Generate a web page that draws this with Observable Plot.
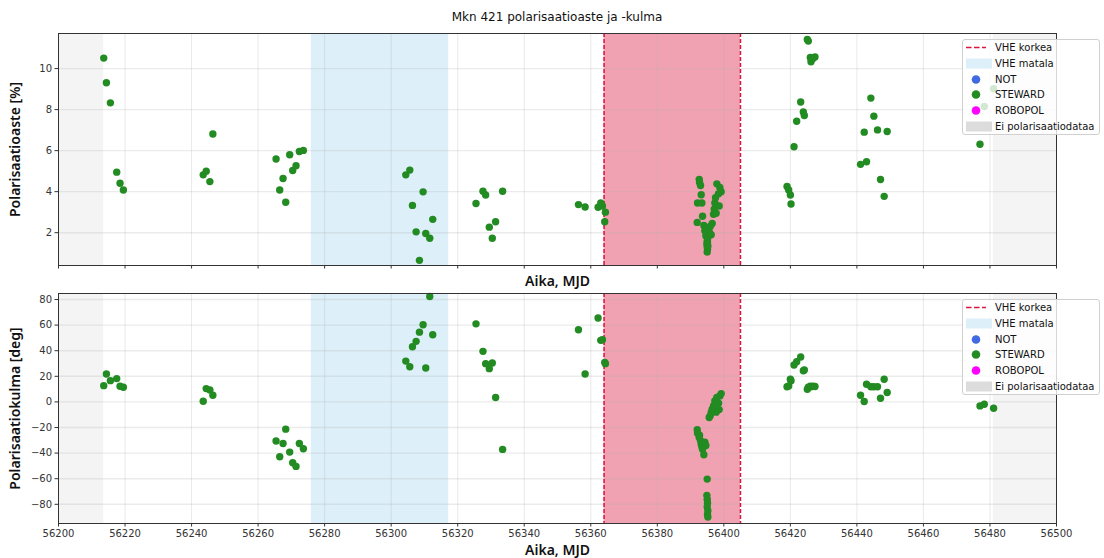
<!DOCTYPE html>
<html>
<head>
<meta charset="utf-8">
<script src="https://cdn.jsdelivr.net/npm/d3@7"></script>
<script src="https://cdn.jsdelivr.net/npm/@observablehq/plot@0.6"></script>
<style>
  html, body { margin: 0; padding: 0; background: #fff; }
  #wrap { position: relative; width: 1104px; height: 558px; overflow: hidden; font-family: "DejaVu Sans", sans-serif; }
  #title { position: absolute; left: 0; width: 1114px; top: 10px; text-align: center; font-size: 12px; color: #111; }
  .panel { position: absolute; left: 0; }
  .legend { position: absolute; width: 138px; height: 96px; background: rgba(255,255,255,0.8); border: 1px solid #d0d0d0; border-radius: 3px; box-sizing: border-box; font-size: 10px; color: #111; z-index: 5; }
  .legend .row { position: absolute; left: 0; height: 16px; width: 100%; }
  .legend .txt { position: absolute; left: 32px; top: 1px; line-height: 14px; white-space: nowrap; }
  .legend svg { position: absolute; left: 0; top: 0; }
  g[aria-label$="axis label"] text { font-family: "Noto Sans", sans-serif; font-weight: 600; font-size: 14px; fill: #111; }
</style>
</head>
<body>
<div id="wrap">
  <div id="title">Mkn 421 polarisaatioaste ja -kulma</div>
</div>
<script>
// ---- data ----
const mjd = [
  56213.6, 56214.4, 56215.6, 56217.5, 56218.5, 56219.5,
  56243.5, 56244.4, 56245.5, 56246.4,
  56265.4, 56266.5, 56267.5, 56268.3, 56269.5, 56270.4, 56271.4, 56272.4, 56273.6,
  56304.4, 56305.6, 56306.4, 56307.5, 56308.5, 56309.6, 56310.4, 56311.6, 56312.5,
  56325.5, 56327.6, 56328.4, 56329.5, 56330.4, 56331.4, 56333.5,
  56356.3, 56358.3, 56362.2, 56363.0, 56363.5, 56364.2, 56364.4,
  56392.0, 56392.1, 56392.6, 56392.7, 56393.0, 56393.2, 56393.4, 56393.6, 56394.0, 56394.3, 56394.6,
  56395.0, 56394.9, 56395.0, 56395.1, 56395.0, 56395.2, 56395.1, 56395.2,
  56395.6, 56395.9, 56396.2, 56396.5, 56396.9, 56397.1, 56397.3, 56397.5, 56397.9, 56398.4, 56398.8, 56399.2, 56398.6, 56397.7,
  56419.0, 56419.5, 56420.0, 56420.2, 56421.1, 56421.9, 56423.1, 56423.9, 56424.2, 56425.1, 56425.4, 56426.0, 56426.2, 56426.8, 56427.4,
  56441.1, 56442.2, 56442.9, 56444.2, 56445.1, 56446.2, 56447.1, 56448.2, 56449.1,
  56477.0, 56478.3, 56481.1
];
const polDegree = [
  10.51, 9.31, 8.33, 4.95, 4.41, 4.08,
  4.82, 5.00, 4.49, 6.81,
  5.59, 4.08, 4.64, 3.48, 5.80, 5.03, 5.26, 5.96, 6.01,
  4.82, 5.05, 3.33, 2.04, 0.65, 3.99, 1.96, 1.73, 2.65,
  3.42, 4.02, 3.84, 2.27, 1.73, 2.53, 4.02,
  3.37, 3.25, 3.24, 3.45, 3.30, 2.53, 3.00,
  2.50, 3.45, 4.60, 4.45, 4.30, 3.85, 3.45, 2.80, 2.35, 2.10, 1.85,
  1.60, 1.45, 1.30, 1.20, 1.06, 1.35, 1.55, 1.75,
  2.05, 2.30, 1.90, 2.45, 2.90, 3.15, 3.45, 3.70, 4.38, 3.90, 4.20, 4.00, 3.30, 2.95,
  4.25, 4.08, 3.84, 3.40, 6.19, 7.43, 8.37, 7.88, 7.71, 11.42, 11.34, 10.54, 10.33, 10.49, 10.57,
  5.33, 6.90, 5.46, 8.56, 7.68, 7.01, 4.59, 3.77, 6.93,
  6.31, 8.15, 9.02
];
const polAngle = [
  12.7, 21.8, 16.6, 18.2, 12.2, 11.4,
  0.5, 10.4, 9.4, 5.2,
  -30.6, -42.9, -32.5, -21.3, -39.2, -47.5, -50.4, -32.5, -36.6,
  31.9, 27.5, 43.1, 47.3, 54.5, 60.3, 26.5, 82.3, 52.5,
  61.0, 39.5, 29.9, 26.0, 30.4, 3.4, -37.1,
  56.4, 21.8, 65.5, 48.1, 48.6, 30.9, 29.9,
  -21.8, -24.4, -27.8, -26.0, -30.4, -33.0, -35.0, -36.9, -41.3, -31.5, -34.0,
  -60.3, -73.0, -76.0, -79.0, -82.0, -85.0, -88.0, -90.0,
  -12.2, -10.9, -8.3, -5.7, -3.1, -3.6, 0.8, -0.5, 3.4, -1.0, 4.7, 6.5, -6.0, -8.0,
  11.9, 12.5, 17.7, 16.5, 28.8, 31.4, 35.1, 24.4, 25.0, 9.9, 11.5, 12.2, 11.9, 12.2, 12.0,
  5.2, 0.3, 13.8, 11.9, 11.9, 11.9, 2.9, 17.7, 7.3,
  -3.1, -1.8, -4.9
];
const instrument = mjd.map(() => "STEWARD");

// shaded time intervals
const regionStart = [56200, 56276, 56364, 56481];
const regionEnd   = [56213.6, 56317.3, 56405, 56500];
const regionKind  = ["Ei polarisaatiodataa", "VHE matala", "VHE korkea", "Ei polarisaatiodataa"];
const highEdges   = [56364, 56405];

const xTicks = d3.range(56200, 56501, 20);
const polTicks = [2, 4, 6, 8, 10];
const angTicks = [-80, -60, -40, -20, 0, 20, 40, 60, 80];

const legendLabels = ["VHE korkea", "VHE matala", "NOT", "STEWARD", "ROBOPOL", "Ei polarisaatiodataa"];

// ---- styling ----
const kindFill = {"Ei polarisaatiodataa": "#f4f4f4", "VHE matala": "#ddeff8", "VHE korkea": "#f0a2b2"};
const instColor = {NOT: "royalblue", STEWARD: "#228b22", ROBOPOL: "magenta"};

const rows = mjd.map((m, i) => ({mjd: m, pol: polDegree[i], ang: polAngle[i], inst: instrument[i]}));
const regions = regionStart.map((s, i) => ({start: s, end: regionEnd[i], kind: regionKind[i], fill: kindFill[regionKind[i]]}));

const minus = d => d < 0 ? "\u2212" + Math.abs(d) : String(d);

function panel({yField, yDomain, yTicks, yLabel, height, mt, mb, showTickLabels}) {
  return Plot.plot({
    width: 1104, height,
    marginLeft: 58, marginRight: 48, marginTop: mt, marginBottom: mb,
    style: {fontFamily: "DejaVu Sans, sans-serif", fontSize: "10px", color: "#333", background: "transparent", overflow: "visible"},
    x: {domain: [56200, 56500]},
    y: {domain: yDomain},
    color: {type: "identity"},
    marks: [
      Plot.rect(regions, {x1: "start", x2: "end", fill: "fill"}),
      Plot.gridX(xTicks, {stroke: "#b0b0b0", strokeOpacity: 0.35, strokeWidth: 0.8}),
      Plot.gridY(yTicks, {stroke: "#b0b0b0", strokeOpacity: 0.25, strokeWidth: 1.4}),
      Plot.ruleX(highEdges, {stroke: "crimson", strokeWidth: 1.5, strokeDasharray: "4,2"}),
      Plot.dot(rows, {x: "mjd", y: yField, r: 3.7, fill: d => instColor[d.inst], stroke: "none"}),
      Plot.frame({stroke: "#333", strokeWidth: 1}),
      Plot.axisY(yTicks, {tickSize: 3.5, tickPadding: 3, tickFormat: minus, label: yLabel, labelAnchor: "center", labelOffset: 48, labelArrow: "none"}),
      Plot.axisX(xTicks, {tickSize: 3.5, tickPadding: 3, tickFormat: showTickLabels ? (d => String(d)) : (() => ""), label: "Aika, MJD", labelAnchor: "center", labelOffset: showTickLabels ? 31 : 20, labelArrow: "none"})
    ]
  });
}

const wrapEl = document.getElementById("wrap");

const topPanel = panel({yField: "pol", yDomain: [0.40, 11.71], yTicks: polTicks, yLabel: "Polarisaatioaste [%]", height: 290, mt: 33, mb: 25, showTickLabels: false});
topPanel.classList.add("panel"); topPanel.style.top = "0px";
wrapEl.appendChild(topPanel);

const botPanel = panel({yField: "ang", yDomain: [-95, 84.7], yTicks: angTicks, yLabel: "Polarisaatiokulma [deg]", height: 268, mt: 3, mb: 35, showTickLabels: true});
botPanel.classList.add("panel"); botPanel.style.top = "290px";
wrapEl.appendChild(botPanel);

// legends
const handleKind = ["line", "patch", "dot", "dot", "dot", "patch"];
const handleColor = ["crimson", "#ddeff8", instColor.NOT, instColor.STEWARD, instColor.ROBOPOL, "#dcdcdc"];
function makeLegend(topPx) {
  const lg = document.createElement("div");
  lg.className = "legend";
  lg.style.left = "962px";
  lg.style.top = topPx + "px";
  legendLabels.forEach((lab, i) => {
    const r = document.createElement("div");
    r.className = "row";
    r.style.top = (i * 15.8) + "px";
    let h = "";
    if (handleKind[i] === "line") h = `<line x1="3" x2="23" y1="7.5" y2="7.5" stroke="${handleColor[i]}" stroke-width="1.6" stroke-dasharray="5.5,2.5"/>`;
    else if (handleKind[i] === "patch") h = `<rect x="3" y="2.5" width="26" height="10" fill="${handleColor[i]}"/>`;
    else h = `<circle cx="13" cy="7.5" r="4.3" fill="${handleColor[i]}"/>`;
    r.innerHTML = `<svg width="32" height="16">${h}</svg><span class="txt">${lab}</span>`;
    lg.appendChild(r);
  });
  wrapEl.appendChild(lg);
}
makeLegend(39);
makeLegend(299);
</script>
</body>
</html>
